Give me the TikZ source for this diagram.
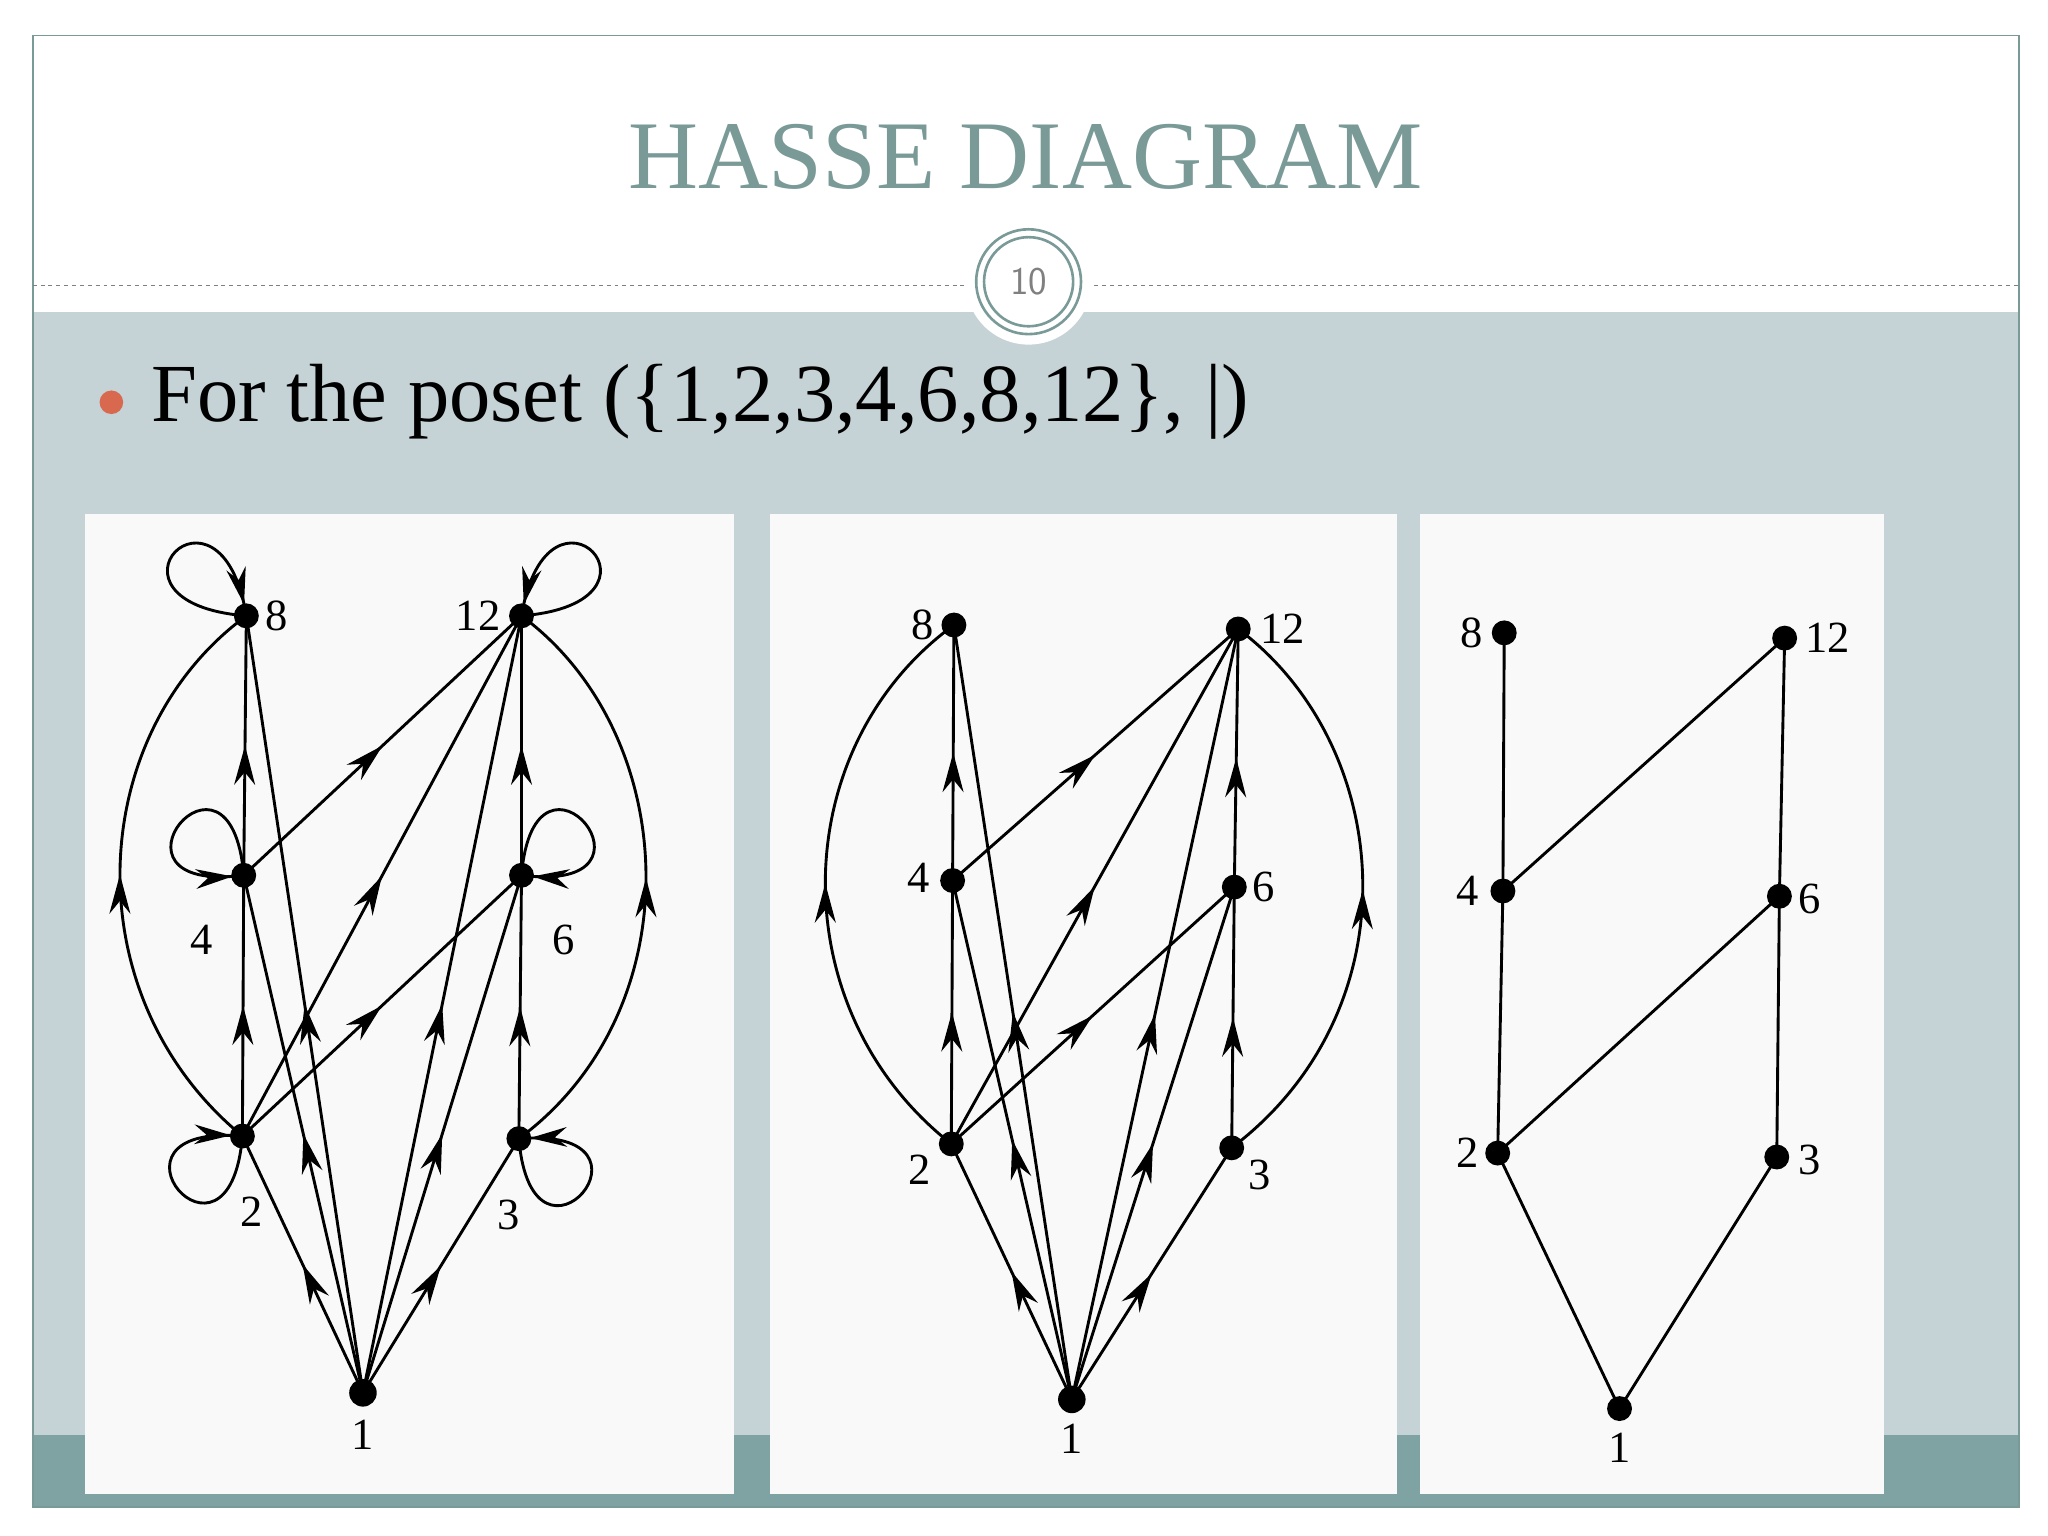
\documentclass[tikz,border=0pt]{standalone}
\usepackage{fontspec}
\setmainfont{Liberation Serif}
\usetikzlibrary{arrows.meta,decorations.markings}
\definecolor{slidebg}{HTML}{C5D2D6}
\definecolor{titlec}{HTML}{7A9A98}
\definecolor{bandc}{HTML}{7FA3A2}
\definecolor{bulletc}{HTML}{D9694E}
\definecolor{panelc}{HTML}{F9F9F9}
\tikzset{
  dot/.style={circle,fill=black,inner sep=0pt,minimum size=19pt},
  lbl/.style={font=\fontsize{34}{36}\selectfont,inner sep=2pt},
  edge/.style={line width=2.2pt},
  midarrow/.style={edge,postaction={decorate},decoration={markings,mark=at position 0.5 with {\arrow{Stealth[length=30pt,width=16pt]}}}},
  looparrow/.style={edge,postaction={decorate},decoration={markings,mark=at position 0.95 with {\arrow{Stealth[length=28pt,width=15pt]}}}},
}
\begin{document}
\begin{tikzpicture}[x=1pt,y=-1pt]
\useasboundingbox (0,0) rectangle (1563,1172);
\fill[white] (0,0) rectangle (1563,1172);
% slide
\fill[slidebg] (25,238) rectangle (1541,1150);
\fill[bandc] (25,1095) rectangle (1541,1150);
\draw[titlec,line width=1.2pt] (25,27) rectangle (1541,1150);
\draw[gray,dashed,line width=0.8pt] (25,218) -- (1541,218);
\fill[white] (785,215) circle (48);
\draw[titlec,line width=2pt] (785,215) circle (40);
\draw[titlec,line width=2pt] (785,215) circle (34);
\node[text=gray,font=\sffamily\fontsize{30}{32}\selectfont] (pg) at (785,215) {10};
\node[text=titlec,font=\fontsize{74}{80}\selectfont] (title) at (783,120) {HASSE DIAGRAM};
\fill[bulletc] (85,307) circle (9);
\node[anchor=west,font=\fontsize{63}{68}\selectfont] (bul) at (112,307) {For the poset (\{1,2,3,4,6,8,12\}, |)};
% panels
\fill[panelc] (65,392) rectangle (560,1140);
\fill[panelc] (588,392) rectangle (1066,1140);
\fill[panelc] (1084,392) rectangle (1438,1140);

% ---------- Diagram 1 ----------
\node[dot] (a8) at (188,470) {};
\node[dot] (a12) at (398,470) {};
\node[dot] (a4) at (186,668) {};
\node[dot] (a6) at (398,668) {};
\node[dot] (a2) at (185,867) {};
\node[dot] (a3) at (396,869) {};
\node[dot,minimum size=21pt] (a1) at (277,1063) {};
\node[lbl] at (211,470) {8};
\node[lbl] at (365,470) {12};
\node[lbl] at (154,717) {4};
\node[lbl] at (430,717) {6};
\node[lbl] at (192,925) {2};
\node[lbl] at (388,927) {3};
\node[lbl] at (277,1095) {1};
\foreach \s/\t in {a1/a2,a1/a3,a1/a4,a1/a6,a1/a8,a1/a12,a2/a4,a2/a6,a2/a12,a3/a6,a4/a8,a4/a12,a6/a12}
  \draw[midarrow] (\s.center) -- (\t.center);
\draw[midarrow] (a2.center) .. controls (55,760) and (65,560) .. (a8.center);
\draw[midarrow] (a3.center) .. controls (530,770) and (520,560) .. (a12.center);
\draw[looparrow] (a8.center) .. controls +(-125,-10) and +(-20,-120) .. (a8.center);
\draw[looparrow] (a12.center) .. controls +(125,-10) and +(20,-120) .. (a12.center);
\draw[looparrow] (a4.center) .. controls +(-10,-120) and +(-120,15) .. (a4.center);
\draw[looparrow] (a6.center) .. controls +(10,-120) and +(120,15) .. (a6.center);
\draw[looparrow] (a2.center) .. controls +(-10,120) and +(-120,-10) .. (a2.center);
\draw[looparrow] (a3.center) .. controls +(10,120) and +(120,-10) .. (a3.center);

% ---------- Diagram 2 ----------
\node[dot] (b8) at (728,477) {};
\node[dot] (b12) at (945,480) {};
\node[dot] (b4) at (727,672) {};
\node[dot] (b6) at (942,677) {};
\node[dot] (b2) at (726,873) {};
\node[dot] (b3) at (940,876) {};
\node[dot,minimum size=21pt] (b1) at (818,1068) {};
\node[lbl] at (704,477) {8};
\node[lbl] at (979,480) {12};
\node[lbl] at (701,670) {4};
\node[lbl] at (964,677) {6};
\node[lbl] at (702,893) {2};
\node[lbl] at (961,897) {3};
\node[lbl] at (818,1098) {1};
\foreach \s/\t in {b1/b2,b1/b3,b1/b4,b1/b6,b1/b8,b1/b12,b2/b4,b2/b6,b2/b12,b3/b6,b4/b8,b4/b12,b6/b12}
  \draw[midarrow] (\s.center) -- (\t.center);
\draw[midarrow] (b2.center) .. controls (595,770) and (600,570) .. (b8.center);
\draw[midarrow] (b3.center) .. controls (1080,770) and (1065,570) .. (b12.center);

% ---------- Diagram 3 ----------
\node[dot] (c8) at (1148,483) {};
\node[dot] (c12) at (1362,487) {};
\node[dot] (c4) at (1147,680) {};
\node[dot] (c6) at (1358,684) {};
\node[dot] (c2) at (1143,880) {};
\node[dot] (c3) at (1356,883) {};
\node[dot] (c1) at (1236,1075) {};
\node[lbl] at (1123,483) {8};
\node[lbl] at (1395,487) {12};
\node[lbl] at (1120,680) {4};
\node[lbl] at (1381,686) {6};
\node[lbl] at (1120,880) {2};
\node[lbl] at (1381,885) {3};
\node[lbl] at (1236,1105) {1};
\foreach \s/\t in {c8/c4,c4/c12,c4/c2,c12/c6,c6/c2,c6/c3,c2/c1,c3/c1}
  \draw[edge] (\s.center) -- (\t.center);
\end{tikzpicture}
\end{document}
